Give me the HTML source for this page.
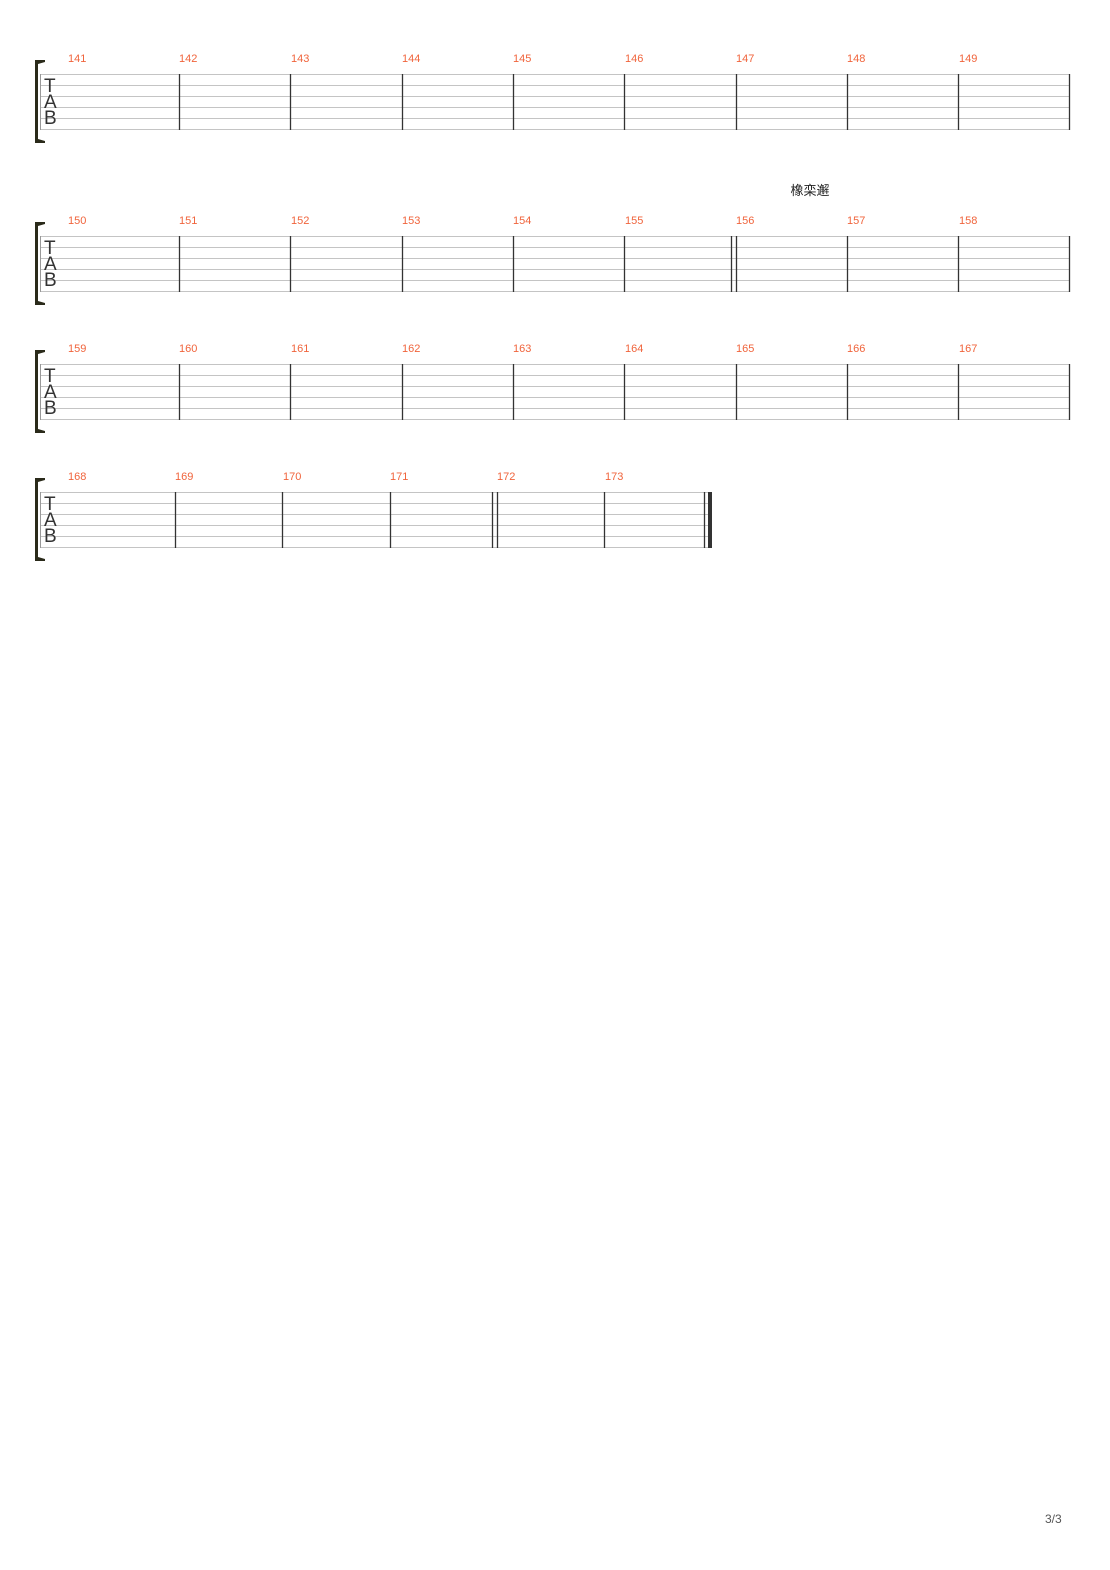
<!DOCTYPE html>
<html><head><meta charset="utf-8"><style>
html,body{margin:0;padding:0;background:#fff;}
svg{display:block;}
.n{font-family:"Liberation Sans",sans-serif;font-size:11px;fill:#f0643c;}
.t{font-family:"Liberation Sans",sans-serif;font-size:19px;fill:#333;}
.s line{stroke:#c4c4c4;stroke-width:1;}
.b{stroke:#333;stroke-width:1.3;}
</style></head><body>
<svg width="1110" height="1570" viewBox="0 0 1110 1570" xmlns="http://www.w3.org/2000/svg">
<!-- Row 1 -->
<g>
<g class="s"><line x1="40" y1="74.5" x2="1070" y2="74.5"/><line x1="40" y1="85.5" x2="1070" y2="85.5"/><line x1="40" y1="96.5" x2="1070" y2="96.5"/><line x1="40" y1="107.5" x2="1070" y2="107.5"/><line x1="40" y1="118.5" x2="1070" y2="118.5"/><line x1="40" y1="129.5" x2="1070" y2="129.5"/></g>
<line x1="40.5" y1="74" x2="40.5" y2="130" stroke="#999" stroke-width="1"/>
<path d="M35 60 L45 60 L45 62 L38 64 L38 139 L45 141 L45 143 L35 143 Z" fill="#2a2a1a"/>
<text class="t" x="44" y="92">T</text><text class="t" x="44" y="108">A</text><text class="t" x="44" y="124">B</text>
<g class="b"><line x1="179.5" y1="74" x2="179.5" y2="130"/><line x1="290.5" y1="74" x2="290.5" y2="130"/><line x1="402.5" y1="74" x2="402.5" y2="130"/><line x1="513.5" y1="74" x2="513.5" y2="130"/><line x1="624.5" y1="74" x2="624.5" y2="130"/><line x1="736.5" y1="74" x2="736.5" y2="130"/><line x1="847.5" y1="74" x2="847.5" y2="130"/><line x1="958.5" y1="74" x2="958.5" y2="130"/><line x1="1069.5" y1="74" x2="1069.5" y2="130"/></g>
<text class="n" x="68" y="62">141</text><text class="n" x="179" y="62">142</text><text class="n" x="291" y="62">143</text><text class="n" x="402" y="62">144</text><text class="n" x="513" y="62">145</text><text class="n" x="625" y="62">146</text><text class="n" x="736" y="62">147</text><text class="n" x="847" y="62">148</text><text class="n" x="959" y="62">149</text>
</g>
<!-- Row 2 -->
<text x="810" y="195" text-anchor="middle" style="font-family:'Liberation Sans','Noto Sans CJK SC',sans-serif;font-size:13px;fill:#222;">橡栾邂</text>
<g transform="translate(0,162)">
<g class="s"><line x1="40" y1="74.5" x2="1070" y2="74.5"/><line x1="40" y1="85.5" x2="1070" y2="85.5"/><line x1="40" y1="96.5" x2="1070" y2="96.5"/><line x1="40" y1="107.5" x2="1070" y2="107.5"/><line x1="40" y1="118.5" x2="1070" y2="118.5"/><line x1="40" y1="129.5" x2="1070" y2="129.5"/></g>
<line x1="40.5" y1="74" x2="40.5" y2="130" stroke="#999" stroke-width="1"/>
<path d="M35 60 L45 60 L45 62 L38 64 L38 139 L45 141 L45 143 L35 143 Z" fill="#2a2a1a"/>
<text class="t" x="44" y="92">T</text><text class="t" x="44" y="108">A</text><text class="t" x="44" y="124">B</text>
<g class="b"><line x1="179.5" y1="74" x2="179.5" y2="130"/><line x1="290.5" y1="74" x2="290.5" y2="130"/><line x1="402.5" y1="74" x2="402.5" y2="130"/><line x1="513.5" y1="74" x2="513.5" y2="130"/><line x1="624.5" y1="74" x2="624.5" y2="130"/><line x1="731.5" y1="74" x2="731.5" y2="130"/><line x1="736.5" y1="74" x2="736.5" y2="130"/><line x1="847.5" y1="74" x2="847.5" y2="130"/><line x1="958.5" y1="74" x2="958.5" y2="130"/><line x1="1069.5" y1="74" x2="1069.5" y2="130"/></g>
<text class="n" x="68" y="62">150</text><text class="n" x="179" y="62">151</text><text class="n" x="291" y="62">152</text><text class="n" x="402" y="62">153</text><text class="n" x="513" y="62">154</text><text class="n" x="625" y="62">155</text><text class="n" x="736" y="62">156</text><text class="n" x="847" y="62">157</text><text class="n" x="959" y="62">158</text>
</g>
<!-- Row 3 -->
<g transform="translate(0,290)">
<g class="s"><line x1="40" y1="74.5" x2="1070" y2="74.5"/><line x1="40" y1="85.5" x2="1070" y2="85.5"/><line x1="40" y1="96.5" x2="1070" y2="96.5"/><line x1="40" y1="107.5" x2="1070" y2="107.5"/><line x1="40" y1="118.5" x2="1070" y2="118.5"/><line x1="40" y1="129.5" x2="1070" y2="129.5"/></g>
<line x1="40.5" y1="74" x2="40.5" y2="130" stroke="#999" stroke-width="1"/>
<path d="M35 60 L45 60 L45 62 L38 64 L38 139 L45 141 L45 143 L35 143 Z" fill="#2a2a1a"/>
<text class="t" x="44" y="92">T</text><text class="t" x="44" y="108">A</text><text class="t" x="44" y="124">B</text>
<g class="b"><line x1="179.5" y1="74" x2="179.5" y2="130"/><line x1="290.5" y1="74" x2="290.5" y2="130"/><line x1="402.5" y1="74" x2="402.5" y2="130"/><line x1="513.5" y1="74" x2="513.5" y2="130"/><line x1="624.5" y1="74" x2="624.5" y2="130"/><line x1="736.5" y1="74" x2="736.5" y2="130"/><line x1="847.5" y1="74" x2="847.5" y2="130"/><line x1="958.5" y1="74" x2="958.5" y2="130"/><line x1="1069.5" y1="74" x2="1069.5" y2="130"/></g>
<text class="n" x="68" y="62">159</text><text class="n" x="179" y="62">160</text><text class="n" x="291" y="62">161</text><text class="n" x="402" y="62">162</text><text class="n" x="513" y="62">163</text><text class="n" x="625" y="62">164</text><text class="n" x="736" y="62">165</text><text class="n" x="847" y="62">166</text><text class="n" x="959" y="62">167</text>
</g>
<!-- Row 4 -->
<g transform="translate(0,418)">
<g class="s"><line x1="40" y1="74.5" x2="712" y2="74.5"/><line x1="40" y1="85.5" x2="712" y2="85.5"/><line x1="40" y1="96.5" x2="712" y2="96.5"/><line x1="40" y1="107.5" x2="712" y2="107.5"/><line x1="40" y1="118.5" x2="712" y2="118.5"/><line x1="40" y1="129.5" x2="712" y2="129.5"/></g>
<line x1="40.5" y1="74" x2="40.5" y2="130" stroke="#999" stroke-width="1"/>
<path d="M35 60 L45 60 L45 62 L38 64 L38 139 L45 141 L45 143 L35 143 Z" fill="#2a2a1a"/>
<text class="t" x="44" y="92">T</text><text class="t" x="44" y="108">A</text><text class="t" x="44" y="124">B</text>
<g class="b"><line x1="175.5" y1="74" x2="175.5" y2="130"/><line x1="282.5" y1="74" x2="282.5" y2="130"/><line x1="390.5" y1="74" x2="390.5" y2="130"/><line x1="492.5" y1="74" x2="492.5" y2="130"/><line x1="497.5" y1="74" x2="497.5" y2="130"/><line x1="604.5" y1="74" x2="604.5" y2="130"/><line x1="704.5" y1="74" x2="704.5" y2="130"/></g>
<rect x="708" y="74" width="4" height="56" fill="#333"/>
<text class="n" x="68" y="62">168</text><text class="n" x="175" y="62">169</text><text class="n" x="283" y="62">170</text><text class="n" x="390" y="62">171</text><text class="n" x="497" y="62">172</text><text class="n" x="605" y="62">173</text>
</g>
<text x="1045" y="1523" style="font-family:'Liberation Sans',sans-serif;font-size:12px;fill:#555;">3/3</text>
</svg>
</body></html>
